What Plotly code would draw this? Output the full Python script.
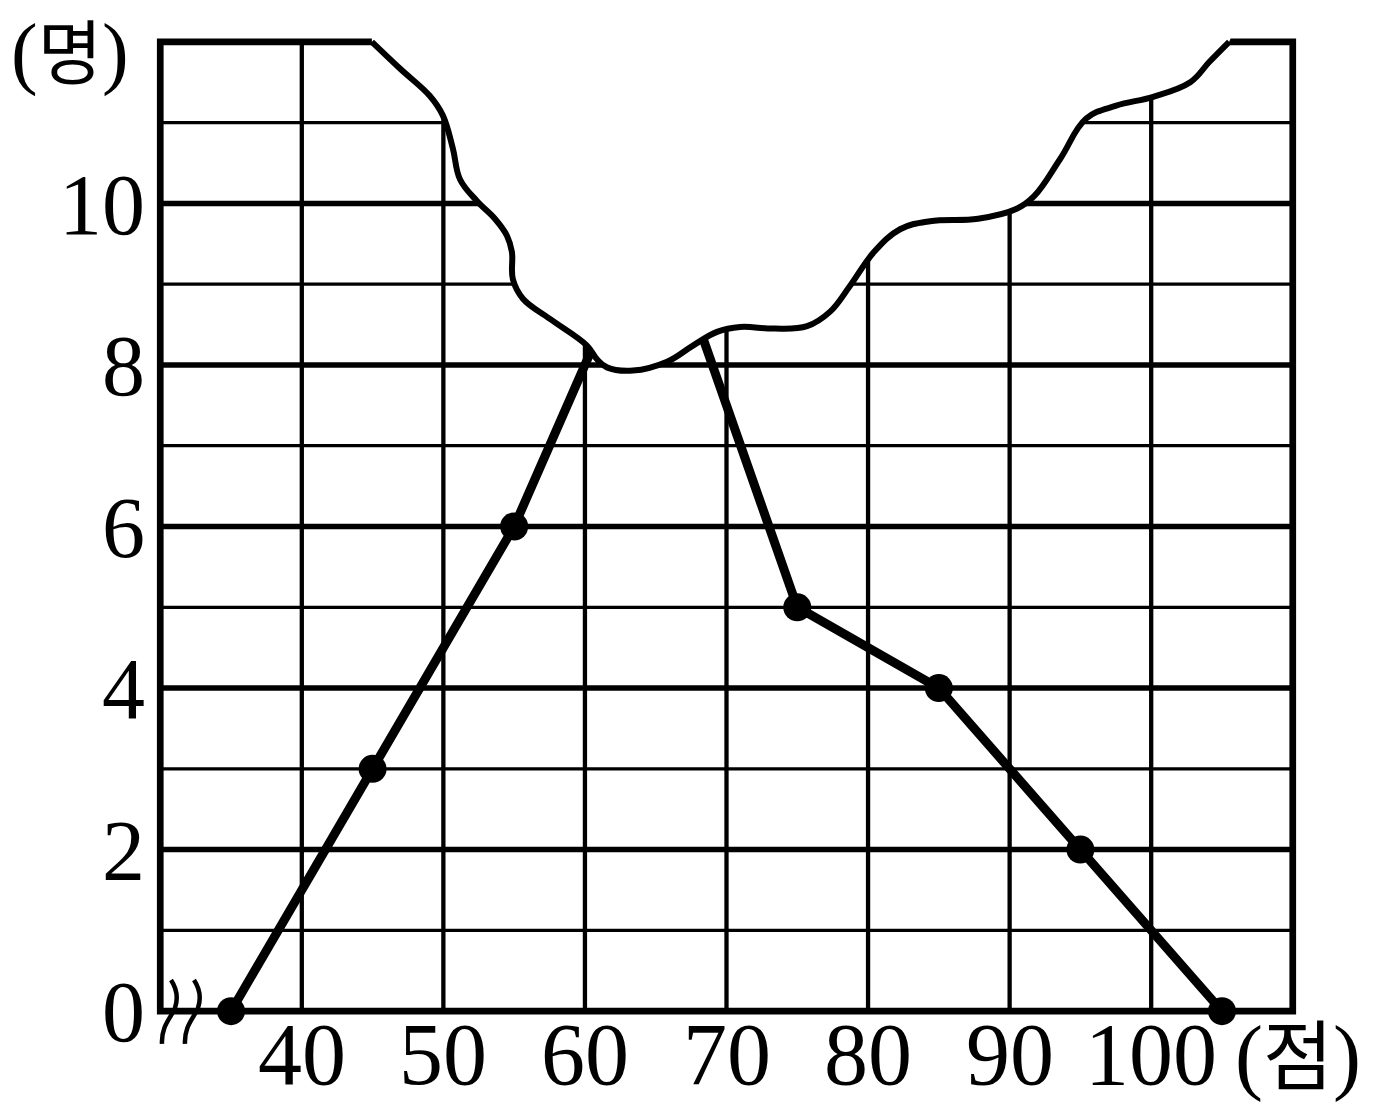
import plotly.graph_objects as go

# ---------------- data ----------------
scores = [35, 45, 55, 65, 75, 85, 95, 105]          # class midpoints (점)
counts = [0, 3, 6, 10, 5, 4, 2, 0]                   # 명 (65 hidden under the tear)

x_tick_vals = [40, 50, 60, 70, 80, 90, 100]
x_tick_text = ["40", "50", "60", "70", "80", "90", "100"]
y_tick_vals = [0, 2, 4, 6, 8, 10]
y_tick_text = ["0", "2", "4", "6", "8", "10"]

x_grid = [40, 50, 60, 70, 80, 90, 100]
y_grid_major = [2, 4, 6, 8, 10]
y_grid_minor = [1, 3, 5, 7, 9, 11]

# torn (erased) edge of the paper
tear_x = [44.95, 46.93, 49.05, 49.96, 50.67, 51.17, 52.37, 53.64, 54.49, 54.84,
          54.91, 55.62, 57.53, 60.14, 60.85, 61.55, 63.39, 65.80, 67.63, 69.33,
          70.96, 73.29, 75.69, 77.32, 78.73, 80.43, 82.26, 84.38, 87.77, 90.46,
          91.73, 93.57, 95.41, 97.53, 100.14, 102.76, 104.10, 105.51]
tear_y = [12.0, 11.67, 11.33, 11.09, 10.68, 10.30, 10.03, 9.81, 9.60, 9.40,
          9.06, 8.82, 8.57, 8.24, 8.07, 7.97, 7.93, 8.04, 8.24, 8.41,
          8.47, 8.45, 8.48, 8.66, 8.98, 9.40, 9.68, 9.78, 9.81, 9.93,
          10.09, 10.55, 11.05, 11.21, 11.32, 11.50, 11.75, 12.0]

X_MIN, X_MAX = 30, 110
Y_MIN, Y_MAX = 0, 12

# ---------------- layout geometry ----------------
W, H = 1382, 1115
L, R, T, B = 156, 85, 37, 99
PW, PH = W - L - R, H - T - B
SERIF = "Liberation Serif, Noto Sans CJK KR, serif"


def px_to_paper(px, py):
    return (px - L) / PW, ((H - B) - py) / PH


def pp(px, py):
    a, b = px_to_paper(px, py)
    return "{:.5f},{:.5f}".format(a, b)


fig = go.Figure()

shapes = []
# grid lines
for gx in x_grid:
    shapes.append(dict(type="line", xref="x", yref="y", x0=gx, x1=gx, y0=Y_MIN, y1=Y_MAX,
                       line=dict(color="black", width=4.3), layer="below"))
for gy in y_grid_minor:
    shapes.append(dict(type="line", xref="x", yref="y", x0=X_MIN, x1=X_MAX, y0=gy, y1=gy,
                       line=dict(color="black", width=3.3), layer="below"))
for gy in y_grid_major:
    shapes.append(dict(type="line", xref="x", yref="y", x0=X_MIN, x1=X_MAX, y0=gy, y1=gy,
                       line=dict(color="black", width=5.5), layer="below"))
# frame
shapes.append(dict(type="rect", xref="x", yref="y", x0=X_MIN, x1=X_MAX, y0=Y_MIN, y1=Y_MAX,
                   line=dict(color="black", width=6.7), layer="below"))

# break marks (≀≀) near origin
for dx in (0, 23):
    path = ("M " + pp(171 + dx, 980) + " C " + pp(175 + dx, 986) + " " + pp(179 + dx, 996)
            + " " + pp(175 + dx, 1008) + " C " + pp(171 + dx, 1018) + " " + pp(161 + dx, 1026)
            + " " + pp(162 + dx, 1044))
    shapes.append(dict(type="path", xref="paper", yref="paper", path=path,
                       line=dict(color="black", width=4.5), layer="above"))

# frequency polygon
fig.add_trace(go.Scatter(
    x=scores, y=counts, mode="lines+markers",
    line=dict(color="black", width=9),
    marker=dict(color="black", size=28),
    cliponaxis=False, hoverinfo="skip", showlegend=False))

# torn region (white fill with black edge)
fill_x = tear_x + [tear_x[-1] + 0.05, tear_x[0] - 0.05]
fill_y = tear_y + [12.8, 12.8]
fig.add_trace(go.Scatter(
    x=fill_x, y=fill_y, mode="lines", fill="toself", fillcolor="white",
    line=dict(color="rgba(0,0,0,0)", width=0, shape="spline", smoothing=1.1),
    hoverinfo="skip", showlegend=False))
fig.add_trace(go.Scatter(
    x=tear_x, y=tear_y, mode="lines",
    line=dict(color="black", width=6, shape="spline", smoothing=1.1),
    hoverinfo="skip", showlegend=False))

annotations = [
    dict(text="(<span style='font-size:70px'>명</span>)", xref="paper", yref="paper",
         x=px_to_paper(70, 52)[0], y=px_to_paper(70, 52)[1],
         xanchor="center", yanchor="middle", showarrow=False,
         font=dict(family=SERIF, size=80, color="black")),
    dict(text="(<span style='font-size:76px'>점</span>)", xref="paper", yref="paper",
         x=px_to_paper(1298, 1056)[0], y=px_to_paper(1298, 1056)[1],
         xanchor="center", yanchor="middle", showarrow=False,
         font=dict(family=SERIF, size=84, color="black")),
]
# x tick labels as annotations (placed just below the axis)
for v, t in zip(x_tick_vals, x_tick_text):
    annotations.append(dict(text=t, xref="x", yref="paper", x=v,
                            y=px_to_paper(0, 1054)[1], xanchor="center", yanchor="middle",
                            showarrow=False,
                            font=dict(family=SERIF, size=88, color="black")))

fig.update_layout(
    width=W, height=H,
    margin=dict(l=L, r=R, t=T, b=B, pad=0),
    paper_bgcolor="white", plot_bgcolor="white",
    shapes=shapes, annotations=annotations,
    xaxis=dict(range=[29.7, 110.3], showgrid=False, zeroline=False, showline=False,
               showticklabels=False, ticks="", fixedrange=True),
    yaxis=dict(range=[-0.06, 12.06], showgrid=False, zeroline=False, showline=False,
               tickvals=y_tick_vals, ticktext=y_tick_text, ticks="",
               tickfont=dict(family=SERIF, size=86, color="black"),
               ticklabelstandoff=10, fixedrange=True),
)

fig.write_html("out.html", config={"displayModeBar": False},
               post_script="document.body.style.margin='0';document.body.style.overflow='hidden';")
